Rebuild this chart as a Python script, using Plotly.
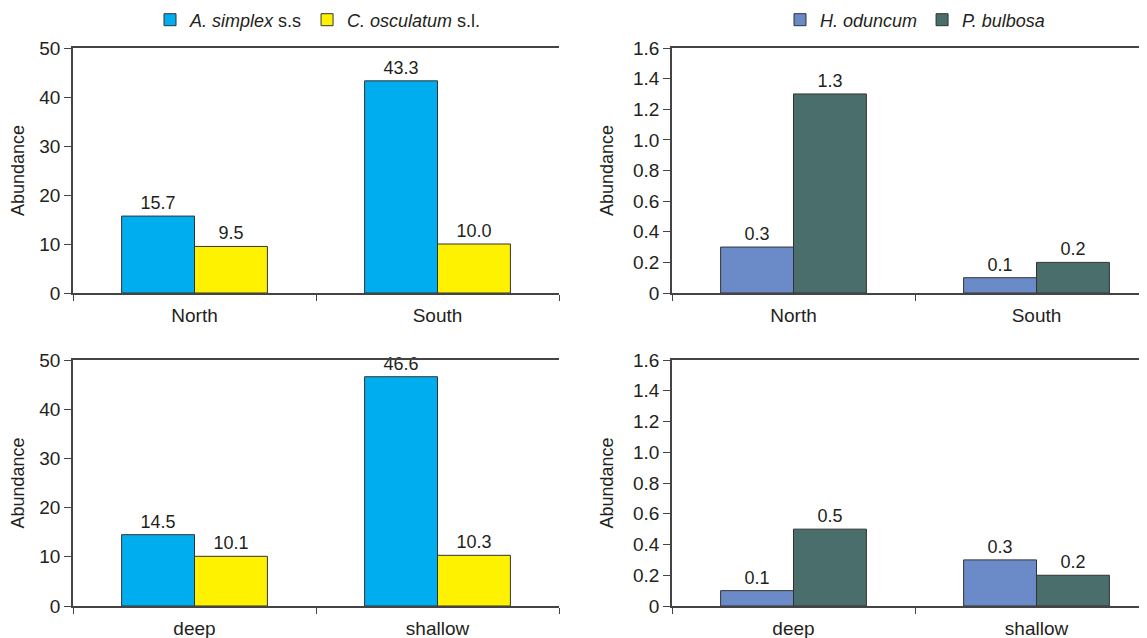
import plotly.graph_objects as go

# ---- data ----
loc_cats = ["North", "South"]
depth_cats = ["deep", "shallow"]
anisakis_loc = [15.7, 43.3]
contra_loc = [9.5, 10.0]
hyster_loc = [0.3, 0.1]
pseudo_loc = [1.3, 0.2]
anisakis_depth = [14.5, 46.6]
contra_depth = [10.1, 10.3]
hyster_depth = [0.1, 0.3]
pseudo_depth = [0.5, 0.2]

left_ticks = [0, 10, 20, 30, 40, 50]
right_ticks = [0, 0.2, 0.4, 0.6, 0.8, 1.0, 1.2, 1.4, 1.6]
right_ticktext = ["0", "0.2", "0.4", "0.6", "0.8", "1.0", "1.2", "1.4", "1.6"]

names = ["<i>A. simplex</i> s.s", "<i>C. osculatum</i> s.l.", "<i>H. oduncum</i>", "<i>P. bulbosa</i>"]
colors = ["#00AEEF", "#FFF200", "#6B8AC8", "#4A6E6B"]

W, H = 1147, 638
OFF = 8  # page body margin
FONT = "Liberation Sans, Arial, sans-serif"
TXT = "#231F20"

fig = go.Figure()

def add_bars(x, vals, name, color, xa, ya, legend, show, fmt):
    fig.add_trace(go.Bar(
        x=x, y=vals, name=name, xaxis=xa, yaxis=ya,
        marker=dict(color=color, line=dict(color="#333333", width=1)),
        text=[fmt.format(v) for v in vals], textposition="outside",
        textfont=dict(size=18, color=TXT, family=FONT),
        cliponaxis=False, showlegend=show, legend=legend,
    ))

add_bars(loc_cats, anisakis_loc, names[0], colors[0], "x", "y", "legend", True, "{:.1f}")
add_bars(loc_cats, contra_loc, names[1], colors[1], "x", "y", "legend", True, "{:.1f}")
add_bars(loc_cats, hyster_loc, names[2], colors[2], "x2", "y2", "legend2", True, "{:.1f}")
add_bars(loc_cats, pseudo_loc, names[3], colors[3], "x2", "y2", "legend2", True, "{:.1f}")
add_bars(depth_cats, anisakis_depth, names[0], colors[0], "x3", "y3", "legend", False, "{:.1f}")
add_bars(depth_cats, contra_depth, names[1], colors[1], "x3", "y3", "legend", False, "{:.1f}")
add_bars(depth_cats, hyster_depth, names[2], colors[2], "x4", "y4", "legend2", False, "{:.1f}")
add_bars(depth_cats, pseudo_depth, names[3], colors[3], "x4", "y4", "legend2", False, "{:.1f}")

def px_x(p):
    return (p - OFF) / W

def px_y(p):
    return 1 - (p - OFF) / H

left_dom = [px_x(73), px_x(559)]
right_dom = [px_x(672), 1.0]
top_dom = [px_y(293), px_y(48)]
bot_dom = [px_y(606), px_y(360)]

right_range = [-0.5, -0.5 + (W - (672 - OFF)) / 243.0]

def xaxis(dom, anchor, rng):
    return dict(domain=dom, anchor=anchor, range=rng, showline=True, linecolor="#444444",
                linewidth=1.5, mirror=True, ticks="outside", tickson="boundaries",
                ticklen=6, tickcolor="#444444", showgrid=False, zeroline=False,
                automargin=False, ticklabelstandoff=4,
                tickfont=dict(size=19, color=TXT, family=FONT))

def yaxis(dom, anchor, rng, tv, tt=None):
    d = dict(domain=dom, anchor=anchor, range=rng, showline=True, linecolor="#444444",
             linewidth=1.5, ticks="outside", ticklen=7, tickcolor="#444444",
             showgrid=False, zeroline=False, tickvals=tv, automargin=False,
             tickfont=dict(size=19, color=TXT, family=FONT),
             title=dict(text="Abundance", font=dict(size=18, color=TXT, family=FONT)))
    if tt:
        d["ticktext"] = tt
    return d

fig.update_layout(
    width=W, height=H,
    margin=dict(l=0, r=0, t=0, b=0, autoexpand=False),
    paper_bgcolor="white", plot_bgcolor="white",
    barmode="group", bargap=0.4, bargroupgap=0,
    font=dict(family=FONT, color=TXT),
    xaxis=xaxis(left_dom, "y", [-0.5, 1.5]),
    yaxis=yaxis(top_dom, "x", [0, 50], left_ticks),
    xaxis2=xaxis(right_dom, "y2", right_range),
    yaxis2=yaxis(top_dom, "x2", [0, 1.6], right_ticks, right_ticktext),
    xaxis3=xaxis(left_dom, "y3", [-0.5, 1.5]),
    yaxis3=yaxis(bot_dom, "x3", [0, 50], left_ticks),
    xaxis4=xaxis(right_dom, "y4", right_range),
    yaxis4=yaxis(bot_dom, "x4", [0, 1.6], right_ticks, right_ticktext),
    legend=dict(orientation="h", x=px_x(318), xanchor="center", y=px_y(20), yanchor="middle",
                font=dict(size=18, color=TXT, family=FONT), bgcolor="rgba(0,0,0,0)",
                traceorder="normal"),
    legend2=dict(orientation="h", x=px_x(915), xanchor="center", y=px_y(20), yanchor="middle",
                 font=dict(size=18, color=TXT, family=FONT), bgcolor="rgba(0,0,0,0)",
                 traceorder="normal"),
)

fig.write_html("out.html")
